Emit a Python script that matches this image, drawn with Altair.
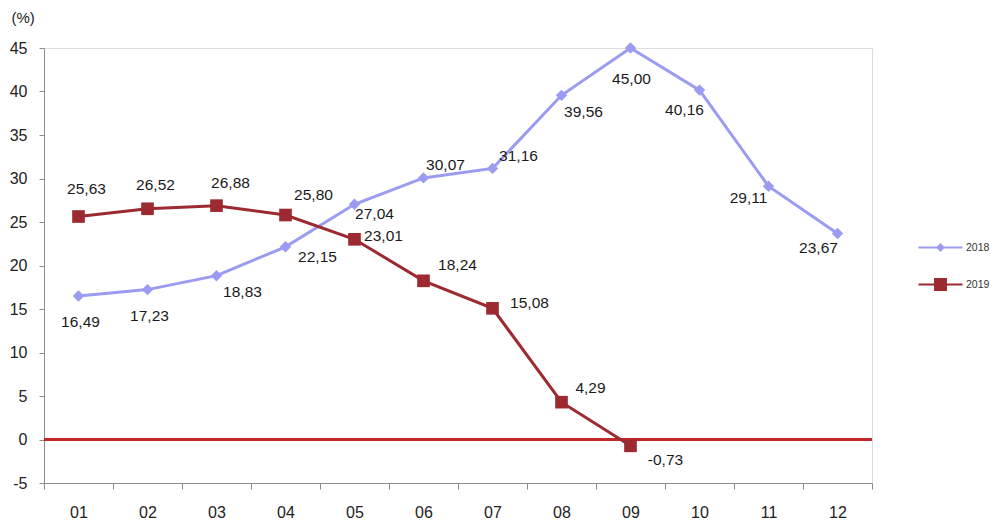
import altair as alt
import pandas as pd

months = ["01", "02", "03", "04", "05", "06", "07", "08", "09", "10", "11", "12"]
series_names = ["2018", "2019"]
values_2018 = [16.49, 17.23, 18.83, 22.15, 27.04, 30.07, 31.16, 39.56, 45.00, 40.16, 29.11, 23.67]
values_2019 = [25.63, 26.52, 26.88, 25.80, 23.01, 18.24, 15.08, 4.29, -0.73]
y_ticks = [-5, 0, 5, 10, 15, 20, 25, 30, 35, 40, 45]

# label placement (pixel offsets of each value label from its point)
label_dx_2018 = [2, 2, 26, 32, 20, 22, 26, 22, 1, -15, -20, -19]
label_dy_2018 = [26, 26, 16, 10, 10, -13, -12, 17, 31, 20, 12, 14]
label_dx_2019 = [8, 8, 14, 28, 29, 34, 37, 29, 35]
label_dy_2019 = [-28, -24, -23, -20, -3, -16, -5, -14, 14]

colors = ["#9b9bf2", "#9c2a30"]
FONT = "Liberation Sans"

rows = []
for s, vals, dxs, dys in [("2018", values_2018, label_dx_2018, label_dy_2018),
                          ("2019", values_2019, label_dx_2019, label_dy_2019)]:
    for m, v, dx, dy in zip(months, vals, dxs, dys):
        rows.append({"month": m, "series": s, "value": v,
                     "label": f"{v:.2f}".replace(".", ","), "dx": dx, "dy": dy})
df = pd.DataFrame(rows)

x_enc = alt.X("month:N", sort=months,
              scale=alt.Scale(type="band", paddingInner=0, paddingOuter=0),
              axis=alt.Axis(title=None, labelAngle=0, tickBand="extent", tickSize=6,
                            labelFontSize=16, labelFont=FONT, labelColor="#222",
                            labelPadding=15, domainColor="#8c8c8c", tickColor="#8c8c8c",
                            grid=False))
y_enc = alt.Y("value:Q", scale=alt.Scale(domain=[-5, 45], nice=False, zero=False),
              axis=alt.Axis(values=y_ticks, labelExpr="datum.value",
                            title="(%)", titleAngle=0, titleAlign="left",
                            titleBaseline="middle", titleX=-33, titleY=-31,
                            titleFont=FONT, titleFontSize=15, titleFontWeight="normal",
                            titleColor="#222", tickSize=5, labelFontSize=16, labelFont=FONT,
                            labelColor="#222", labelPadding=12, domainColor="#8c8c8c",
                            tickColor="#8c8c8c", grid=False))
color_enc = alt.Color("series:N", scale=alt.Scale(domain=series_names, range=colors), legend=None)

base = alt.Chart(df)

zero = base.mark_rule(color="#c0282b", strokeWidth=1.5).encode(y=alt.datum(0))

lines = base.mark_line(strokeWidth=3).encode(x=x_enc, y=y_enc, color=color_enc, detail="series:N")

points_2018 = base.transform_filter(alt.datum.series == "2018").mark_point(
    filled=True, opacity=1, shape="diamond", size=130).encode(x=x_enc, y=y_enc, color=color_enc)
points_2019 = base.transform_filter(alt.datum.series == "2019").mark_point(
    filled=True, opacity=1, shape="square", size=160).encode(x=x_enc, y=y_enc, color=color_enc)

labels = base.mark_text(font=FONT, fontSize=15.5, color="#1a1a1a",
                        dx=alt.expr("datum.dx"), dy=alt.expr("datum.dy")).encode(
    x=x_enc, y=y_enc, text="label:N")

leg_paths = ["M-1.19,0H1.19M0,-0.17L0.17,0L0,0.17L-0.17,0Z",
             "M-1.19,0H1.19M-0.3,-0.3H0.3V0.3H-0.3Z"]
leg = alt.Legend(title=None, orient="none", legendX=877, legendY=180, padding=0,
                 symbolSize=1369, symbolStrokeWidth=1.8, symbolOpacity=1, rowPadding=10,
                 labelOffset=6, labelFont=FONT, labelFontSize=10.5, labelColor="#333")
legend_layer = base.mark_point(size=0, filled=True).encode(
    x=x_enc, y=y_enc,
    fill=alt.Fill("series:N", scale=alt.Scale(domain=series_names, range=colors), legend=leg),
    stroke=alt.Stroke("series:N", scale=alt.Scale(domain=series_names, range=colors), legend=leg),
    shape=alt.Shape("series:N", scale=alt.Scale(domain=series_names, range=leg_paths), legend=leg),
)

chart = alt.layer(zero, lines, points_2018, points_2019, labels, legend_layer).resolve_scale(
    fill="independent", stroke="independent", shape="independent"
).resolve_legend(
    fill="independent", stroke="independent", shape="independent"
).properties(
    width=828, height=435,
    autosize=alt.AutoSizeParams(type="none"),
    padding={"left": 36, "top": 40, "right": 119, "bottom": 40},
).configure_view(stroke=None).configure(background="white")

chart.save("out.html", embed_options={"renderer": "svg", "actions": False})
